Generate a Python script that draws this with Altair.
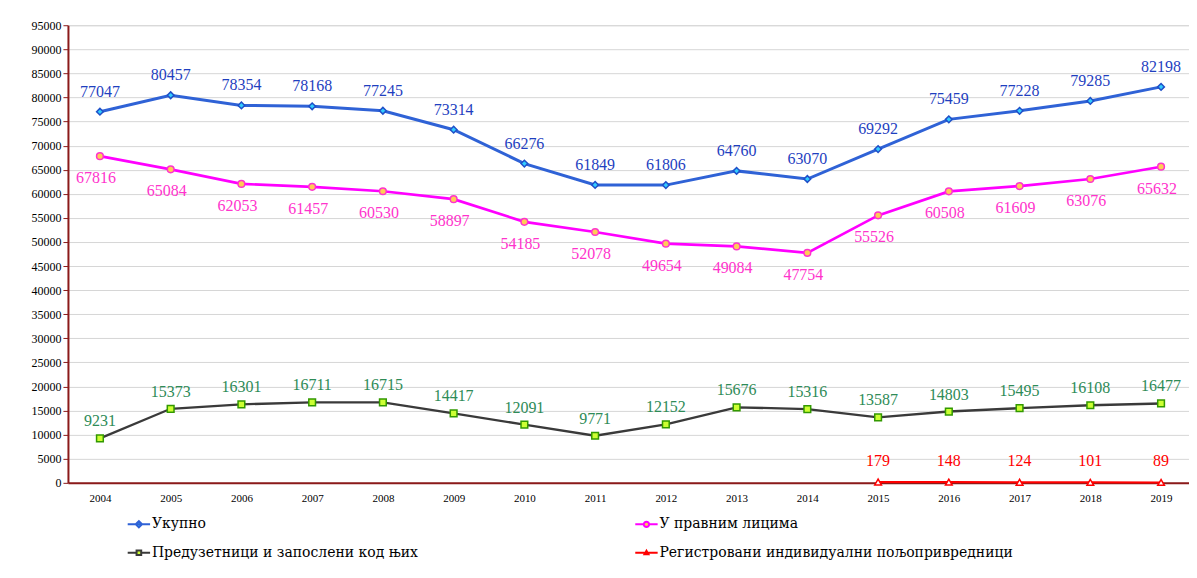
import altair as alt
import pandas as pd

years = list(range(2004, 2020))
total = [77047, 80457, 78354, 78168, 77245, 73314, 66276, 61849, 61806, 64760, 63070, 69292, 75459, 77228, 79285, 82198]
legal = [67816, 65084, 62053, 61457, 60530, 58897, 54185, 52078, 49654, 49084, 47754, 55526, 60508, 61609, 63076, 65632]
entre = [9231, 15373, 16301, 16711, 16715, 14417, 12091, 9771, 12152, 15676, 15316, 13587, 14803, 15495, 16108, 16477]
farm_years = [2015, 2016, 2017, 2018, 2019]
farm = [179, 148, 124, 101, 89]

series_names = ["Укупно", "У правним лицима", "Предузетници и запослени код њих",
                "Регистровани индивидуални пољопривредници"]
line_colors = ["#2F62D6", "#FF00FF", "#3A3A3A", "#FF0000"]
marker_stroke = ["#1F4FC8", "#FF33CC", "#339900", "#FF0000"]
marker_fill = ["#33CCFF", "#FFCC55", "#CCFF33", "#FFFFFF"]
label_colors = ["#1F3FBF", "#FF33CC", "#2E8B57", "#FF0000"]
line_widths = [3, 2, 1, 3]
marker_shapes = ["diamond", "circle", "square", "triangle-up"]
label_dy = [-20, 22, -17, -21]
label_dx = [0, -4, 0, 0]

rows = []
for name, ys, vals in [(series_names[0], years, total), (series_names[1], years, legal),
                       (series_names[2], years, entre), (series_names[3], farm_years, farm)]:
    for yr, v in zip(ys, vals):
        rows.append({"series": name, "year": yr, "value": v})
df = pd.DataFrame(rows)

FONT = "Liberation Serif"
LEG_FONT = "DejaVu Serif"
AX = "#8B1A1A"

x = alt.X("year:Q", scale=alt.Scale(domain=[2003.548, 2019.395], nice=False, zero=False),
          axis=alt.Axis(values=years, format="d", title=None, grid=False, ticks=False,
                        domainColor=AX, domainWidth=2, labelFont=FONT, labelFontSize=11,
                        labelColor="#000000", labelPadding=10))
y = alt.Y("value:Q", scale=alt.Scale(domain=[0, 95000], nice=False),
          axis=alt.Axis(values=list(range(0, 95001, 5000)), format="d", title=None,
                        grid=True, gridColor="#D6D6D6", gridWidth=1,
                        domainColor=AX, domainWidth=2, tickColor=AX, tickSize=5,
                        labelFont=FONT, labelFontSize=12, labelColor="#000000", labelPadding=2))

base = alt.Chart(df)

# legend glyphs: a short line with the series marker in its middle
p_dia = "M-1.6,0H1.6M-0.45,0L0,-0.45L0.45,0L0,0.45Z"
p_cir = "M-1.6,0H-0.38M0.38,0H1.6M-0.38,0A0.38,0.38,0,1,1,0.38,0A0.38,0.38,0,1,1,-0.38,0Z"
p_sq = "M-1.6,0H-0.33M0.33,0H1.6M-0.33,-0.33H0.33V0.33H-0.33Z"
p_tri = "M-1.6,0H1.6M-0.28,0.22L0,-0.28L0.28,0.22Z"
legend_shapes = [p_dia, p_cir, p_sq, p_tri]

# legend fills columns top-down: order entries so the grid matches the original
legend_order = [0, 2, 1, 3]
leg_domain = [series_names[i] for i in legend_order]
leg_stroke = [line_colors[i] for i in legend_order]
leg_fill = [marker_fill[i] for i in legend_order]
leg_shape = [legend_shapes[i] for i in legend_order]

lines = base.mark_line().encode(
    x=x, y=y,
    color=alt.Color("series:N", scale=alt.Scale(domain=series_names, range=line_colors), legend=None),
    strokeWidth=alt.StrokeWidth("series:N", scale=alt.Scale(domain=series_names, range=line_widths), legend=None),
)

points = base.mark_point(filled=True, opacity=1, size=45, strokeWidth=1.5).encode(
    x=x, y=y,
    stroke=alt.Stroke("series:N", scale=alt.Scale(domain=series_names, range=marker_stroke), legend=None),
    fill=alt.Fill("series:N", scale=alt.Scale(domain=series_names, range=marker_fill), legend=None),
    shape=alt.Shape("series:N", scale=alt.Scale(domain=series_names, range=marker_shapes), legend=None),
)

leg = alt.Legend(title=None, orient="none", legendX=63, legendY=491, columns=2,
                 columnPadding=212, rowPadding=13, symbolSize=196,
                 symbolStrokeWidth=2, labelFont=LEG_FONT, labelFontSize=14, labelColor="#000000",
                 labelLimit=600, labelOffset=5, padding=0, symbolOpacity=1)

legend_layer = base.transform_filter("datum.value < 0").mark_point(filled=True, opacity=1).encode(
    x=x, y=y,
    stroke=alt.Stroke("series:N", scale=alt.Scale(domain=leg_domain, range=leg_stroke), legend=leg),
    fill=alt.Fill("series:N", scale=alt.Scale(domain=leg_domain, range=leg_fill), legend=leg),
    shape=alt.Shape("series:N", scale=alt.Scale(domain=leg_domain, range=leg_shape), legend=leg),
)

texts = []
for i, name in enumerate(series_names):
    t = base.transform_filter(alt.datum.series == name).mark_text(
        font=FONT, fontSize=16, baseline="middle", align="center",
        dy=label_dy[i], dx=label_dx[i], color=label_colors[i]
    ).encode(x=x, y=y, text=alt.Text("value:Q", format="d"))
    texts.append(t)

chart = alt.layer(lines, points, *texts, legend_layer).resolve_scale(
    stroke="independent", fill="independent", shape="independent"
).resolve_legend(
    stroke="independent", fill="independent", shape="independent"
).properties(
    width=1122, height=458,
    padding={"left": 60, "top": 17, "right": 0, "bottom": 87},
    autosize=alt.AutoSizeParams(type="none"),
).configure_view(stroke=None).configure_legend(
    labelFont=LEG_FONT, labelFontSize=14, labelColor="#000000"
).configure(background="#FFFFFF")

chart.save("out.html", embed_options={"renderer": "svg", "actions": False})
